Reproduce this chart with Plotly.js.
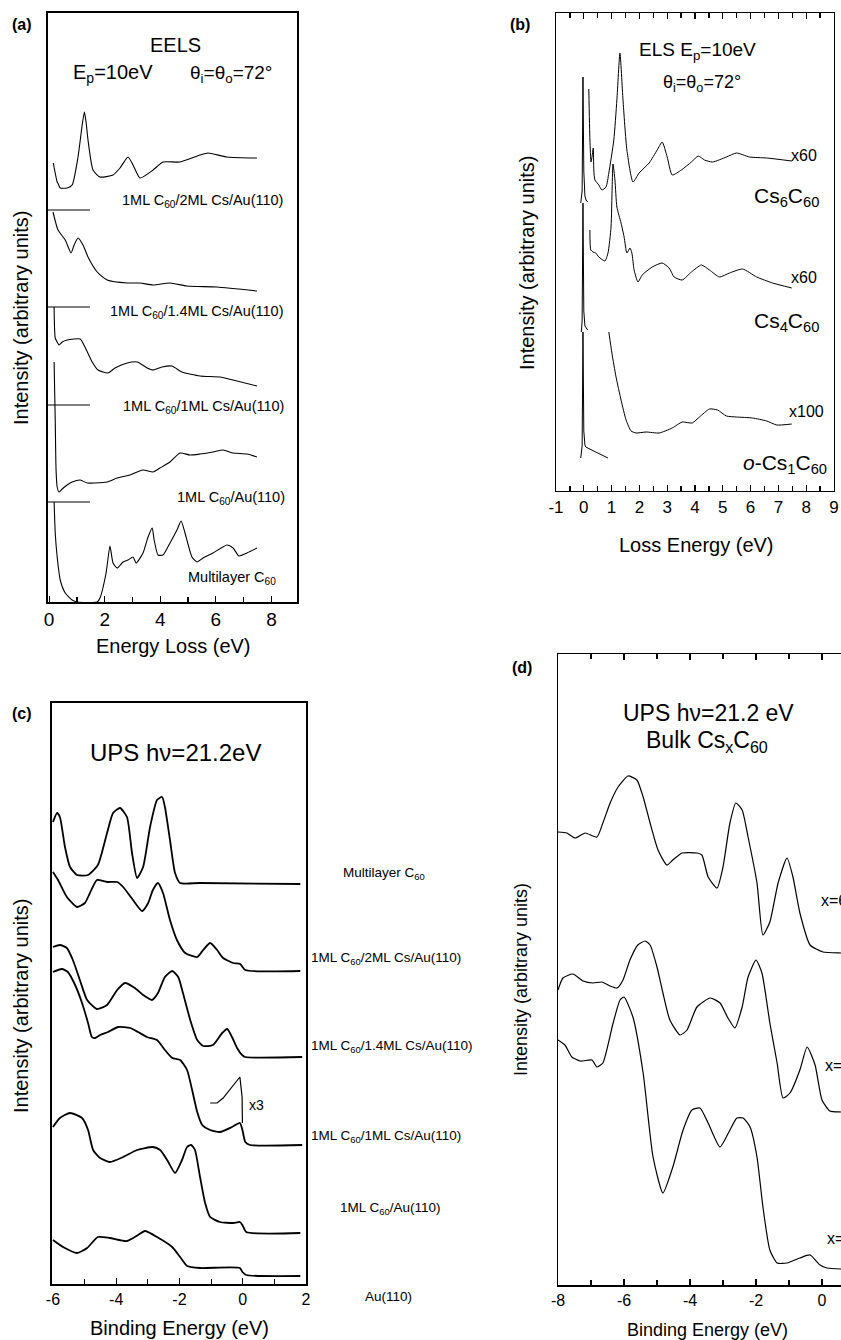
<!DOCTYPE html>
<html>
<head>
<meta charset="utf-8">
<script src="https://cdn.plot.ly/plotly-3.0.1.min.js"></script>
<style>
html,body{margin:0;padding:0;background:#fff;overflow:hidden;width:841px;height:1340px;}
#chart{width:900px;height:1340px;}
</style>
</head>
<body>
<div id="chart"></div>
<script>
// ---------------- DATA ----------------
// (a) EELS, energy loss (eV) vs intensity (arb.)
const aTicks = [0,2,4,6,8];
const aTickText = ['0','2','4','6','8'];
const a1X = [0.15,0.29,0.33,0.40,0.65,0.83,1.04,1.19,1.27,1.33,1.40,1.58,1.83,2.30,2.55,2.84,3.02,3.27,3.74,4.10,4.71,5.43,5.72,6.40,7.48];
const a1Y = [439,420,418,414,414,417,445,477,490,480,462,432,425,427,434,445,437,424,432,440,440,447,449,445,444];
const a2X = [0.14,0.32,0.58,0.79,0.90,1.04,1.22,1.40,1.73,2.09,2.81,3.27,3.74,4.35,4.96,6.04,7.48];
const a2Y = [390,372,362,349,357,364,357,345,330,322,319,319,317,319,316,315,311];
const a3X = [0.18,0.22,0.29,0.36,0.47,0.65,1.12,1.29,1.55,1.76,2.12,2.37,2.81,3.17,3.53,3.74,4.06,4.42,4.78,5.43,6.15,6.62,7.48];
const a3Y = [295,264,260,257,260,262,263,255,240,232,229,234,239,240,234,232,235,236,230,226,225,222,216];
const a4X = [0.18,0.22,0.25,0.29,0.36,0.47,0.65,0.83,1.12,1.37,1.65,2.09,2.45,2.91,3.38,3.74,3.99,4.35,4.71,5.07,5.43,5.90,6.26,6.62,7.12,7.48];
const a4Y = [240,182,132,115,110,113,117,120,122,119,119,120,124,127,132,130,134,140,149,147,148,150,152,149,148,145];
const a5X = [0.18,0.22,0.29,0.40,0.58,0.83,1.01,1.73,1.83,2.05,2.19,2.30,2.45,2.66,2.84,3.02,3.13,3.38,3.56,3.71,3.78,3.92,4.10,4.35,4.60,4.75,4.89,5.14,5.32,5.54,5.90,6.40,6.62,6.83,7.12,7.48];
const a5Y = [100,69,45,22,9,2,0,0,4,29,56,39,34,40,42,45,39,49,65,74,62,47,47,59,72,81,69,45,40,44,49,57,54,46,49,54];
const aBaseX = [-0.04,1.47];
const aBaseY = [392,295,197,100];
const aLabels = ['1ML C<sub>60</sub>/2ML Cs/Au(110)','1ML C<sub>60</sub>/1.4ML Cs/Au(110)','1ML C<sub>60</sub>/1ML Cs/Au(110)','1ML C<sub>60</sub>/Au(110)','Multilayer C<sub>60</sub>'];

// (b) ELS of bulk CsxC60, loss energy (eV)
const bTicks = [-1,0,1,2,3,4,5,6,7,8,9];
const bTickText = ['-1','0','1','2','3','4','5','6','7','8','9'];
const b6eX = [-0.11,-0.06,-0.03,0.0,0.04,0.08,0.14];
const b6eY = [288,300,414,320,295,291,289];
const b6X = [0.18,0.22,0.26,0.29,0.34,0.36,0.40,0.54,0.65,0.80,0.90,1.08,1.19,1.30,1.41,1.55,1.77,1.99,2.35,2.64,2.82,3.00,3.18,3.51,3.87,4.12,4.34,4.63,5.13,5.49,5.96,6.58,7.48];
const b6Y = [402,351,329,333,343,321,311,306,301,304,318,351,391,438,391,341,309,318,328,341,349,334,316,321,329,335,331,329,334,338,334,333,330];
const b4eX = [-0.09,-0.06,-0.03,0.0,0.04,0.08,0.14];
const b4eY = [159,170,288,180,165,163,161];
const b4X = [0.22,0.25,0.33,0.43,0.54,0.76,0.87,0.98,1.02,1.05,1.12,1.19,1.34,1.45,1.55,1.66,1.73,1.81,1.95,2.10,2.46,2.82,3.07,3.25,3.54,3.87,4.23,4.52,4.88,5.24,5.71,6.22,6.79,7.48];
const b4Y = [261,241,239,238,234,230,238,264,304,327,311,284,268,254,238,243,238,221,209,216,224,228,223,214,211,219,226,221,214,218,222,214,208,203];
const b1eX = [-0.11,-0.06,-0.03,0.0,0.04,0.07,0.43,0.87];
const b1eY = [33,45,159,60,46,44,39,33];
const b1X = [0.90,1.01,1.16,1.34,1.52,1.70,1.88,2.24,2.71,3.18,3.54,3.90,4.16,4.52,4.81,5.13,5.49,6.07,6.58,6.94,7.48];
const b1Y = [159,138,114,91,71,60,58,59,58,63,69,68,74,82,81,75,74,73,70,66,67];

// (c) UPS, binding energy (eV)
const cTicks = [-6,-4,-2,0,2];
const cTickText = ['-6','-4','-2','0','2'];
const c1X = [-6.00,-5.87,-5.78,-5.62,-5.46,-5.24,-4.89,-4.58,-4.29,-4.10,-3.88,-3.66,-3.50,-3.34,-3.15,-2.93,-2.71,-2.55,-2.46,-2.30,-2.14,-1.98,-1.35,1.82];
const c1Y = [462,471,467,437,417,409,409,419,451,471,476,467,431,406,417,457,484,487,477,444,411,401,401,400];
const c2X = [-6.00,-5.84,-5.56,-5.24,-4.99,-4.83,-4.61,-4.29,-3.97,-3.78,-3.47,-3.18,-2.99,-2.84,-2.68,-2.52,-2.30,-2.08,-1.82,-1.44,-1.25,-1.03,-0.81,-0.62,-0.30,-0.08,0.08,1.82];
const c2Y = [412,404,387,377,381,391,404,402,402,397,384,373,381,394,401,391,364,344,331,327,334,341,334,326,321,320,314,313];
const c3X = [-6.00,-5.78,-5.56,-5.37,-5.15,-4.92,-4.61,-4.29,-3.97,-3.72,-3.41,-3.15,-2.87,-2.68,-2.46,-2.23,-2.04,-1.89,-1.66,-1.44,-1.25,-0.94,-0.65,-0.49,-0.34,-0.18,-0.02,0.08,1.88];
const c3Y = [337,339,336,324,304,284,275,279,294,301,296,289,284,291,307,313,307,291,264,244,238,239,251,255,247,236,229,227,227];
const c4X = [-6.00,-5.72,-5.53,-5.30,-5.08,-4.89,-4.77,-4.67,-4.51,-4.26,-3.94,-3.56,-3.31,-3.03,-2.71,-2.46,-2.23,-1.98,-1.76,-1.60,-1.44,-1.28,-1.03,-0.72,-0.34,-0.09,-0.01,0.08,0.23,1.88];
const c4Y = [312,315,312,299,281,261,247,246,249,252,257,256,252,247,244,234,226,224,214,194,172,159,154,152,157,161,154,142,139,139];
const c4insetX = [-1.03,-0.81,-0.62,-0.34,-0.15,-0.09,-0.02,-0.01];
const c4insetY = [181,181,186,197,204,207,187,161];
const c5X = [-6.00,-5.78,-5.46,-5.08,-4.89,-4.73,-4.51,-4.20,-3.78,-3.34,-2.84,-2.61,-2.39,-2.14,-1.92,-1.76,-1.63,-1.51,-1.35,-1.19,-1.03,-0.72,-0.30,-0.09,-0.01,0.11,1.82];
const c5Y = [157,166,171,166,154,134,126,122,127,134,137,134,124,111,124,137,139,134,107,81,67,62,61,62,59,52,51];
const c6X = [-6.00,-5.68,-5.24,-4.92,-4.58,-4.20,-3.66,-3.31,-3.09,-2.71,-2.23,-1.98,-1.76,-1.35,-0.09,-0.01,0.11,1.82];
const c6Y = [44,37,31,36,47,46,43,49,53,47,37,27,18,16,16,12,9,8];
const cLabels = ['Multilayer C<sub>60</sub>','1ML C<sub>60</sub>/2ML Cs/Au(110)','1ML C<sub>60</sub>/1.4ML Cs/Au(110)','1ML C<sub>60</sub>/1ML Cs/Au(110)','1ML C<sub>60</sub>/Au(110)','Au(110)'];

// (d) UPS bulk CsxC60, binding energy (eV)
const dTicks = [-8,-6,-4,-2,0];
const dTickText = ['-8','-6','-4','-2','0'];
const d6X = [-8.00,-7.73,-7.48,-7.18,-6.82,-6.64,-6.42,-6.18,-5.88,-5.61,-5.42,-5.21,-4.97,-4.70,-4.52,-4.24,-3.79,-3.64,-3.45,-3.18,-3.00,-2.79,-2.61,-2.42,-2.24,-1.97,-1.79,-1.58,-1.33,-1.06,-0.88,-0.67,-0.36,0.03,0.58,2.0];
const d6Y = [453,452,447,452,448,462,482,498,509,505,488,462,435,420,425,432,432,430,408,397,418,462,482,475,448,402,350,363,402,427,408,372,340,333,332,332];
const d4X = [-8.00,-7.85,-7.55,-7.24,-6.94,-6.67,-6.42,-6.21,-6.03,-5.82,-5.58,-5.36,-5.21,-5.00,-4.82,-4.61,-4.30,-4.09,-3.79,-3.39,-3.09,-2.85,-2.64,-2.42,-2.24,-2.00,-1.82,-1.58,-1.36,-1.18,-0.97,-0.67,-0.45,-0.21,0.00,0.24,0.58,2.0];
const d4Y = [295,307,311,304,302,303,299,297,305,325,340,344,340,318,292,265,250,255,278,287,282,267,257,278,308,325,312,262,222,187,192,215,238,220,185,174,173,173];
const d1X = [-8.00,-7.79,-7.58,-7.33,-6.97,-6.82,-6.64,-6.33,-6.12,-6.00,-5.73,-5.42,-5.12,-4.82,-4.52,-4.21,-3.94,-3.70,-3.45,-3.09,-2.79,-2.58,-2.39,-2.18,-1.97,-1.79,-1.58,-1.36,-1.06,-0.67,-0.36,-0.06,0.15,0.58,2.0];
const d1Y = [245,240,228,224,225,218,222,262,285,288,268,212,128,92,118,155,175,177,162,138,155,167,167,158,128,78,35,22,22,27,30,20,17,16,16];
const dLabels = ['x=6','x=4','x=1'];

// ---------------- DRAWING ----------------
const W = 900, H = 1340;
const F = '"Liberation Sans", Arial, Helvetica, sans-serif';

function tr(x, y, ax, w, shape) {
  const s = ax > 1 ? String(ax) : '';
  return {x: x, y: y, xaxis: 'x' + s, yaxis: 'y' + s, mode: 'lines',
    line: {color: '#000', width: w, shape: shape || 'spline', smoothing: 0.55},
    hoverinfo: 'skip', showlegend: false};
}
const traces = [
  tr(a1X, a1Y, 1, 1.1), tr(a2X, a2Y, 1, 1.1), tr(a3X, a3Y, 1, 1.1), tr(a4X, a4Y, 1, 1.1), tr(a5X, a5Y, 1, 1.1)
];
aBaseY.forEach(v => traces.push(tr(aBaseX, [v, v], 1, 1.1, 'linear')));
traces.push(tr(b6eX, b6eY, 2, 1, 'linear'), tr(b6X, b6Y, 2, 1),
            tr(b4eX, b4eY, 2, 1, 'linear'), tr(b4X, b4Y, 2, 1),
            tr(b1eX, b1eY, 2, 1, 'linear'), tr(b1X, b1Y, 2, 1));
traces.push(tr(c1X, c1Y, 3, 1.8), tr(c2X, c2Y, 3, 1.8), tr(c3X, c3Y, 3, 1.8),
            tr(c4X, c4Y, 3, 1.8), tr(c4insetX, c4insetY, 3, 1.2, 'linear'),
            tr(c5X, c5Y, 3, 1.8), tr(c6X, c6Y, 3, 1.8));
traces.push(tr(d6X, d6Y, 4, 1.2), tr(d4X, d4Y, 4, 1.2), tr(d1X, d1Y, 4, 1.2));

function xax(l, r, range, vals, text, minorStep, mirror, lw, fs) {
  return {domain: [l / W, r / W], range: range, showline: true, linecolor: '#000', linewidth: lw,
    mirror: mirror, ticks: 'inside', ticklen: 6, tickwidth: 1.2, tickcolor: '#000',
    tickmode: 'array', tickvals: vals, ticktext: text, showgrid: false, zeroline: false,
    minor: {tick0: 0, dtick: minorStep, ticks: 'inside', ticklen: 5, tickwidth: 1.2, tickcolor: '#000', showgrid: false},
    tickfont: {family: F, size: fs, color: '#000'}, fixedrange: true};
}
function yax(t, b, top, lw, anchorX) {
  return {domain: [1 - b / H, 1 - t / H], range: [0, top], showline: true, linecolor: '#000',
    linewidth: lw, mirror: true, ticks: '', showticklabels: false, showgrid: false,
    zeroline: false, anchor: anchorX, fixedrange: true};
}

function ann(text, px, py, size, extra) {
  return Object.assign({text: text, xref: 'paper', yref: 'paper', x: px / W, y: 1 - py / H,
    xanchor: 'center', yanchor: 'middle', showarrow: false,
    font: {family: F, size: size, color: '#000'}}, extra || {});
}
const rot = {textangle: -90};
const annotations = [
  // (a)
  ann('<b>(a)</b>', 22, 25, 16),
  ann('EELS', 175, 45, 20),
  ann('E<sub>p</sub>=10eV', 113, 74, 20),
  ann('θ<sub>i</sub>=θ<sub>o</sub>=72°', 231, 74, 19),
  ann(aLabels[0], 202, 201, 14.5),
  ann(aLabels[1], 197, 312, 14.5),
  ann(aLabels[2], 203, 407, 14.5),
  ann(aLabels[3], 231, 498, 14.5),
  ann(aLabels[4], 232, 578, 14.5),
  ann('Energy Loss (eV)', 173, 646, 20),
  ann('Intensity (arbitrary units)', 21, 318, 20, rot),
  // (b)
  ann('<b>(b)</b>', 520, 25, 16),
  ann('ELS E<sub>p</sub>=10eV', 697, 51, 19),
  ann('θ<sub>i</sub>=θ<sub>o</sub>=72°', 702, 84, 18),
  ann('x60', 804, 155, 16),
  ann('Cs<sub>6</sub>C<sub>60</sub>', 786, 197, 21),
  ann('x60', 804, 278, 16),
  ann('Cs<sub>4</sub>C<sub>60</sub>', 786, 322, 21),
  ann('x100', 806, 412, 16),
  ann('<i>o</i>-Cs<sub>1</sub>C<sub>60</sub>', 785, 464, 21),
  ann('Loss Energy (eV)', 696, 545, 20),
  ann('Intensity (arbitrary units)', 527, 263, 20, rot),
  // (c)
  ann('<b>(c)</b>', 22, 713, 16),
  ann('UPS hν=21.2eV', 175, 752, 24),
  ann(cLabels[0], 384, 873, 13.5),
  ann(cLabels[1], 309, 958, 13.5, {xanchor: 'left'}),
  ann(cLabels[2], 309, 1046, 13.5, {xanchor: 'left'}),
  ann(cLabels[3], 309, 1136, 13.5, {xanchor: 'left'}),
  ann(cLabels[4], 390, 1208, 13.5),
  ann(cLabels[5], 388, 1296, 13.5),
  ann('x3', 256, 1105, 14),
  ann('Binding Energy (eV)', 179, 1328, 20),
  ann('Intensity (arbitrary units)', 21, 1006, 20, rot),
  // (d)
  ann('<b>(d)</b>', 522, 668, 16),
  ann('UPS hν=21.2 eV', 708, 713, 23),
  ann('Bulk Cs<sub>x</sub>C<sub>60</sub>', 707, 741, 23),
  ann(dLabels[0], 819, 900, 16, {xanchor: 'left'}),
  ann(dLabels[1], 823, 1065, 16, {xanchor: 'left'}),
  ann(dLabels[2], 825, 1238, 16, {xanchor: 'left'}),
  ann('Binding Energy (eV)', 707, 1330, 18),
  ann('Intensity (arbitrary units)', 521, 980, 18, rot)
];

const layout = {
  width: W, height: H, margin: {l: 0, r: 0, t: 0, b: 0},
  paper_bgcolor: '#fff', plot_bgcolor: '#fff', showlegend: false,
  font: {family: F, color: '#000'},
  xaxis: Object.assign(xax(48, 297, [-0.04, 8.92], aTicks, aTickText, 1, true, 1.6, 19), {anchor: 'y'}),
  yaxis: yax(13, 602, 589, 1.6, 'x'),
  xaxis2: Object.assign(xax(556, 834, [-1, 9], bTicks, bTickText, 0.5, 'ticks', 1.4, 17), {anchor: 'y2'}),
  yaxis2: yax(13, 491, 478, 1.4, 'x2'),
  xaxis3: Object.assign(xax(52, 306, [-6.03, 2], cTicks, cTickText, 1, true, 2, 16), {anchor: 'y3'}),
  yaxis3: yax(703, 1284, 581, 2, 'x3'),
  xaxis4: Object.assign(xax(558, 888, [-8, 2], dTicks, dTickText, 1, 'ticks', 1.5, 16), {anchor: 'y4'}),
  yaxis4: yax(654, 1285, 631, 1.5, 'x4'),
  annotations: annotations
};

Plotly.newPlot('chart', traces, layout, {displayModeBar: false, staticPlot: true});
</script>
</body>
</html>
